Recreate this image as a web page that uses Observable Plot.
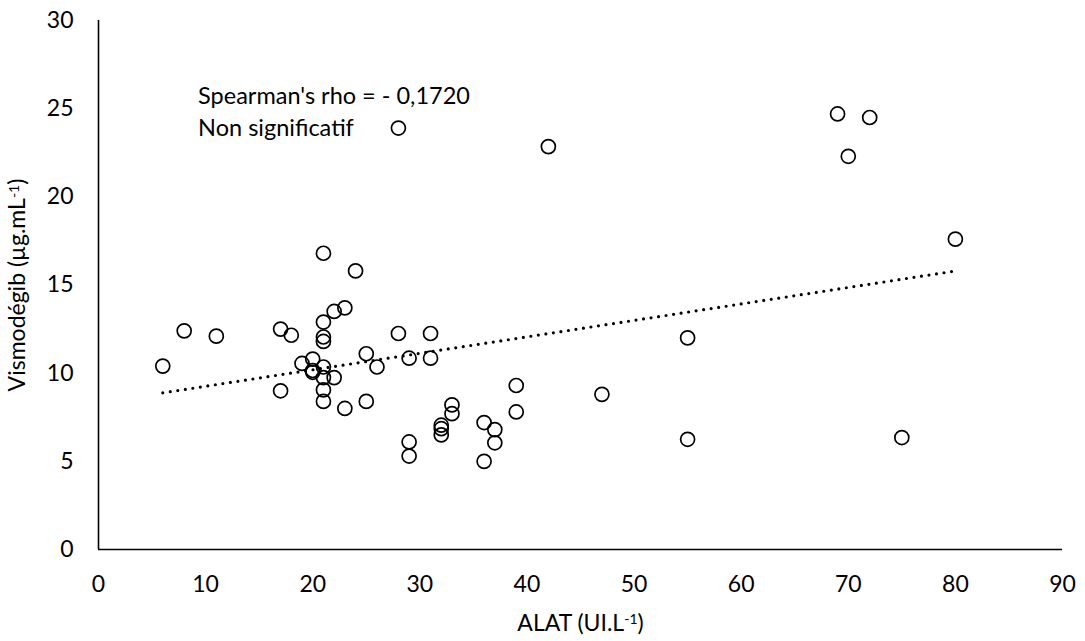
<!DOCTYPE html>
<html><head><meta charset="utf-8">
<script src="https://cdn.jsdelivr.net/npm/d3@7"></script>
<script src="https://cdn.jsdelivr.net/npm/@observablehq/plot@0.6"></script>
<style>body{margin:0;background:#fff}</style>
</head><body><div id="chart"></div>
<script>
// ALAT (UI/L) values
const alat = [6, 8, 11, 17, 17, 18, 19, 20, 20, 20,
  21, 21, 21, 21, 21, 21, 21, 21, 22, 22,
  23, 23, 24, 25, 25, 26, 28, 28, 29, 29,
  29, 31, 31, 32, 32, 32, 33, 33, 36, 36,
  37, 37, 39, 39, 42, 47, 55, 55, 69, 70,
  72, 75, 80];
// Vismodégib (µg/mL) values
const vismo = [10.4, 12.4, 12.1, 12.5, 9.0, 12.15, 10.55, 10.8, 10.15, 10.05,
  16.8, 12.9, 12.05, 11.8, 10.35, 9.75, 9.05, 8.4, 13.5, 9.75,
  13.7, 8.0, 15.8, 11.1, 8.4, 10.35, 23.9, 12.25, 10.85, 6.1,
  5.3, 12.25, 10.85, 7.05, 6.85, 6.5, 8.2, 7.7, 7.2, 5.0,
  6.8, 6.05, 9.3, 7.8, 22.85, 8.8, 12.0, 6.25, 24.7, 22.3,
  24.5, 6.35, 17.6];
const xTicks = [0, 10, 20, 30, 40, 50, 60, 70, 80, 90];
const yTicks = [0, 5, 10, 15, 20, 25, 30];
const annotationLines = ["Spearman's rho = - 0,1720", "Non significatif"];
const annotationPos = {x: 9.3, y: 26.5};

const data = alat.map((x, i) => ({x, y: vismo[i]}));

const chart = Plot.plot({
  width: 1085, height: 641,
  marginLeft: 98, marginRight: 23, marginTop: 20, marginBottom: 92,
  style: {fontFamily: "Lato, 'Open Sans', sans-serif", fontSize: "23px", color: "#000", background: "#fff"},
  x: {domain: [0, 90], ticks: xTicks, tickSize: 0, tickPadding: 26, label: "ALAT (UI.L-1)", labelAnchor: "center", labelOffset: 81},
  y: {domain: [0, 30], ticks: yTicks, tickSize: 0, tickPadding: 25, label: "Vismodégib (µg.mL-1)", labelAnchor: "center", labelOffset: 90},
  marks: [
    Plot.ruleX([0], {stroke: "#000", strokeWidth: 1.6}),
    Plot.ruleY([0], {stroke: "#000", strokeWidth: 1.6}),
    Plot.linearRegressionY(data, {x: "x", y: "y", ci: 0, stroke: "#000", strokeWidth: 3.2, strokeDasharray: "0,7.6", strokeLinecap: "round"}),
    Plot.dot(data, {x: "x", y: "y", r: 7, stroke: "#000", strokeWidth: 1.7, fill: "none"}),
    Plot.text([annotationLines.join("\n")], {x: () => annotationPos.x, y: () => annotationPos.y, textAnchor: "start", lineAnchor: "top", lineHeight: 1.33, fontSize: 23.5, fill: "#000"})
  ]
});
document.getElementById("chart").appendChild(chart);

// superscript for axis label units
function supLabel(sel, base, sup, close) {
  const t = chart.querySelector(sel + " text");
  if (!t) return;
  t.textContent = "";
  const ns = "http://www.w3.org/2000/svg";
  const a = document.createElementNS(ns, "tspan"); a.textContent = base; t.appendChild(a);
  const b = document.createElementNS(ns, "tspan"); b.textContent = sup; b.setAttribute("dy", "-0.45em"); b.setAttribute("font-size", "14"); t.appendChild(b);
  const c = document.createElementNS(ns, "tspan"); c.textContent = close; c.setAttribute("dy", "0.28em"); t.appendChild(c);
}
supLabel('[aria-label="x-axis label"]', "ALAT (UI.L", "-1", ")");
supLabel('[aria-label="y-axis label"]', "Vismodégib (µg.mL", "-1", ")");
</script>
</body></html>
